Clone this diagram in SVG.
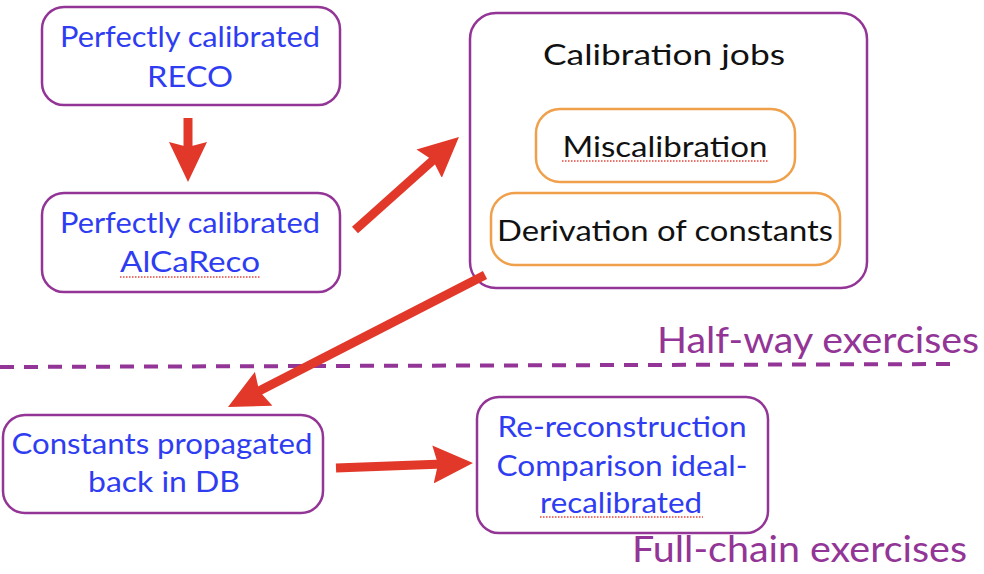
<svg xmlns="http://www.w3.org/2000/svg" width="984" height="574" viewBox="0 0 984 574">
  <style>
    .box { fill: #ffffff; stroke: #933596; stroke-width: 2.5; }
    .sub { fill: #ffffff; stroke: #f0a04a; stroke-width: 2.5; }
    .t { font-family: Lato, "Liberation Sans", sans-serif; font-size: 28px; text-anchor: middle; }
    .blue { fill: #2f3df2; }
    .black { fill: #111111; }
    .zone { font-family: Lato, "Liberation Sans", sans-serif; font-size: 36px; fill: #933596; }
    .arrow { stroke: #e2382a; stroke-width: 9; fill: none; marker-end: url(#head); }
    .squiggle { stroke: #e8453c; stroke-width: 1.4; stroke-dasharray: 1.5 1.5; fill: none; }
    .divider { stroke: #933596; stroke-width: 4; stroke-dasharray: 14 10; fill: none; }
  </style>
  <defs>
    <!-- head tip sits 30px beyond the end of each shaft -->
    <marker id="head" markerUnits="userSpaceOnUse" markerWidth="40" markerHeight="38" viewBox="0 0 40 38" refX="10" refY="19" orient="auto">
      <path d="M0,0 L40,19 L0,38 L5,19 z" fill="#e2382a"/>
    </marker>
  </defs>

  <rect width="984" height="574" fill="#ffffff"/>

  <!-- separator between the two exercise stages -->
  <line class="divider" x1="0" y1="367" x2="958" y2="364"/>
  <text class="zone" x="657" y="353" textLength="322" lengthAdjust="spacingAndGlyphs">Half-way exercises</text>
  <text class="zone" x="632" y="562" textLength="335" lengthAdjust="spacingAndGlyphs">Full-chain exercises</text>

  <g id="reco">
    <rect class="box" x="42" y="7" width="298" height="98" rx="22"/>
    <text class="t blue" x="190" y="47" textLength="260" lengthAdjust="spacingAndGlyphs">Perfectly calibrated</text>
    <text class="t blue" x="190" y="87" textLength="86" lengthAdjust="spacingAndGlyphs">RECO</text>
  </g>

  <g id="alcareco">
    <rect class="box" x="42" y="193" width="298" height="99" rx="22"/>
    <text class="t blue" x="190" y="233" textLength="260" lengthAdjust="spacingAndGlyphs">Perfectly calibrated</text>
    <text class="t blue" x="190" y="272" textLength="140" lengthAdjust="spacingAndGlyphs">AlCaReco</text>
    <line class="squiggle" x1="120" y1="277" x2="260" y2="277"/>
  </g>

  <g id="calibration-jobs">
    <rect class="box" x="470" y="13" width="397" height="275" rx="26"/>
    <text class="t black" x="664" y="65" textLength="242" lengthAdjust="spacingAndGlyphs">Calibration jobs</text>
  </g>

  <g id="miscalibration">
    <rect class="sub" x="536" y="109" width="259" height="73" rx="24"/>
    <text class="t black" x="665" y="157" textLength="205" lengthAdjust="spacingAndGlyphs">Miscalibration</text>
    <line class="squiggle" x1="562" y1="161" x2="768" y2="161"/>
  </g>

  <g id="derivation">
    <rect class="sub" x="491" y="193" width="349" height="72" rx="24"/>
    <text class="t black" x="665" y="241" textLength="336" lengthAdjust="spacingAndGlyphs">Derivation of constants</text>
  </g>

  <g id="constants-db">
    <rect class="box" x="3" y="415" width="320" height="98" rx="22"/>
    <text class="t blue" x="162" y="454" textLength="301" lengthAdjust="spacingAndGlyphs">Constants propagated</text>
    <text class="t blue" x="164" y="492" textLength="152" lengthAdjust="spacingAndGlyphs">back in DB</text>
  </g>

  <g id="re-reconstruction">
    <rect class="box" x="477" y="397" width="291" height="136" rx="22"/>
    <text class="t blue" x="622" y="437" textLength="249" lengthAdjust="spacingAndGlyphs">Re-reconstruction</text>
    <text class="t blue" x="622" y="476" textLength="251" lengthAdjust="spacingAndGlyphs">Comparison ideal-</text>
    <text class="t blue" x="621" y="513" textLength="162" lengthAdjust="spacingAndGlyphs">recalibrated</text>
    <line class="squiggle" x1="540" y1="517" x2="703" y2="517"/>
  </g>

  <g id="connectors">
    <line class="arrow" x1="188" y1="118" x2="188" y2="152"/>
    <line class="arrow" x1="355" y1="230" x2="436.6" y2="157"/>
    <line class="arrow" x1="485" y1="275" x2="254.7" y2="393.3"/>
    <line class="arrow" x1="336" y1="468" x2="443" y2="464.1"/>
  </g>
</svg>
